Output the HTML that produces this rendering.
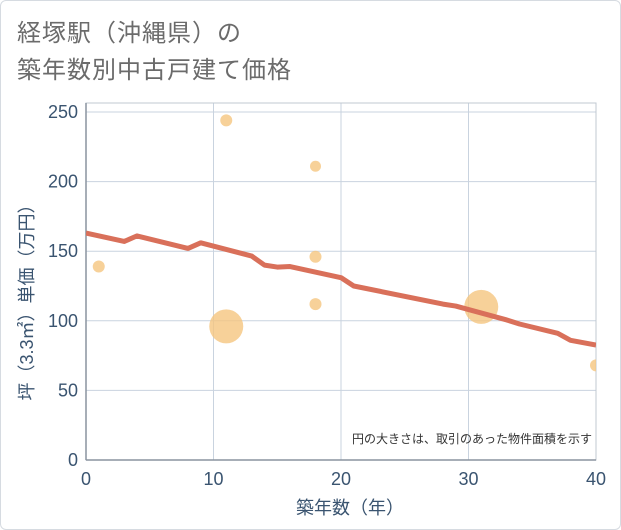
<!DOCTYPE html>
<html><head><meta charset="utf-8">
<style>
html,body{margin:0;padding:0;background:#fff;}
body{width:621px;height:530px;overflow:hidden;font-family:"Liberation Sans","Noto Sans CJK JP",sans-serif;}
.card{position:absolute;left:0;top:0;width:619px;height:528px;border:1px solid #d6dbe1;border-radius:6px;background:#fff;}
.title{position:absolute;left:17px;top:15px;font-size:24px;line-height:37px;color:#6b6b6b;letter-spacing:1px;}
</style></head><body>
<div class="card"></div>
<div class="title">経塚駅（沖縄県）の<br>築年数別中古戸建て価格</div>
<svg id="chart" width="621" height="530" style="position:absolute;left:0;top:0">
<defs><clipPath id="pc"><rect x="86" y="103" width="510" height="357"/></clipPath></defs>
</svg>
<script>
const lineYears=[0,3,4,8,9,13,14,15,16,20,21,28,29,33,34,37,38,40];
const lineVals=[163,157,161,152,156,146.5,140,138.6,139,131,125,112,110.6,100.6,97.7,91,86,82.6];
const bubYears=[1,11,11,18,18,18,31,40];
const bubVals=[139,244,96,211,146,112,110,68];
const bubSize=[6,6,17,5.5,6,6,17,6];
const yTicks=[0,50,100,150,200,250];
const xTicks=[0,10,20,30,40];
const L=86,R=596,T=103,B=460;
const sx=v=>L+v*(R-L)/40;
const sy=v=>B-v*(348/250);
const NS="http://www.w3.org/2000/svg";
const svg=document.getElementById('chart');
function mk(tag,attrs){const e=document.createElementNS(NS,tag);for(const k in attrs)e.setAttribute(k,attrs[k]);svg.appendChild(e);return e;}
yTicks.forEach(t=>{
  if(t>0){const g=mk('line',{x1:L,x2:R,y1:sy(t),y2:sy(t),stroke:'#c9d3df','stroke-width':1});
  
  }
  const tx=mk('text',{x:L-8,y:sy(t)+6,'text-anchor':'end','font-size':18,fill:'#3a5470'});
  tx.textContent=t;
  
  
});
xTicks.forEach(t=>{
  if(t>0&&t<40){const g=mk('line',{x1:sx(t),x2:sx(t),y1:T,y2:B,stroke:'#c9d3df','stroke-width':1});
  
  }
  const tx=mk('text',{x:sx(t),y:B+25,'text-anchor':'middle','font-size':18,fill:'#3a5470'});
  tx.textContent=t;
  
  
});
const frame=mk('rect',{x:L,y:T,width:R-L,height:B-T,fill:'none',stroke:'#c0c8d2','stroke-width':1});


const ax=mk('line',{x1:L,x2:L,y1:T,y2:B,stroke:'#8a949f','stroke-width':1.5});


const ax2=mk('line',{x1:L,x2:R,y1:B,y2:B,stroke:'#8a949f','stroke-width':1.5});


bubYears.forEach((yr,i)=>{
  const c=mk('circle',{cx:sx(yr),cy:sy(bubVals[i]),r:bubSize[i],fill:'#f5c67f','fill-opacity':0.8,'clip-path':'url(#pc)'});
  
  
});
const pts=lineYears.map((yr,i)=>sx(yr)+','+sy(lineVals[i])).join(' ');
const pl=mk('polyline',{points:pts,fill:'none',stroke:'#d9705a','stroke-width':5,'stroke-linejoin':'round','stroke-linecap':'butt','clip-path':'url(#pc)'});


const note=mk('text',{x:592,y:443,'text-anchor':'end','font-size':12,fill:'#333'});
note.textContent='円の大きさは、取引のあった物件面積を示す';


const xl=mk('text',{x:350,y:514,'text-anchor':'middle','font-size':18,fill:'#3a5470'});
xl.textContent='築年数（年）';


const yl=mk('text',{x:0,y:0,'text-anchor':'middle','font-size':18,fill:'#3a5470',transform:'translate(33,298) rotate(-90)'});
yl.textContent='坪（3.3㎡）単価（万円）';


</script>
</body></html>
